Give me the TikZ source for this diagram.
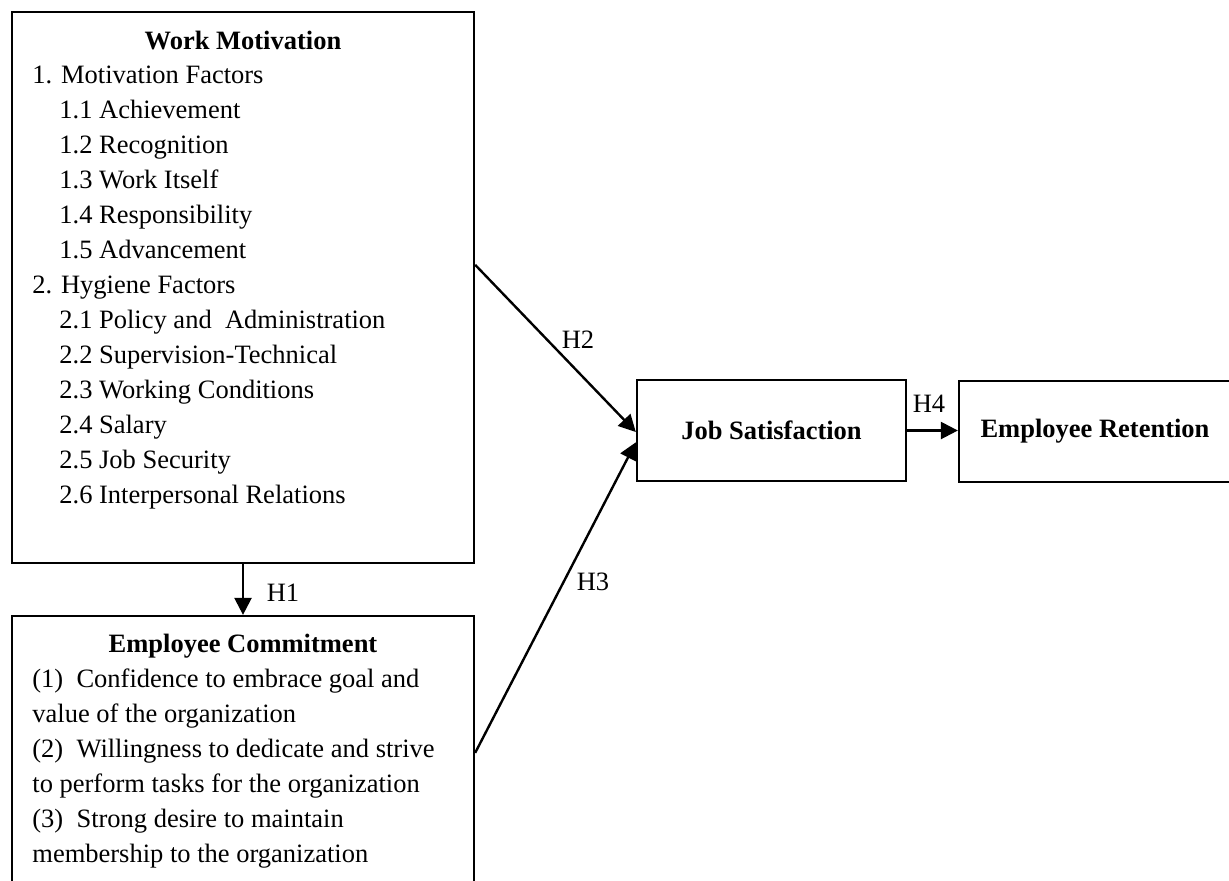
\documentclass[tikz,border=0pt]{standalone}
\usepackage{fontspec}
\setmainfont{Liberation Serif}
\usetikzlibrary{arrows.meta,calc}
\newcommand\diafont{\fontsize{13.25}{17.5}\selectfont}
\tikzset{
  box/.style={draw, line width=1.15pt, rectangle, inner sep=0pt},
  conn/.style={line width=1.2pt, -{Triangle[length=8.5pt,width=8.5pt]}},
  lbl/.style={anchor=base, inner sep=0pt, font=\diafont},
  title/.style={anchor=base, inner sep=0pt, font=\diafont\bfseries},
  items/.style={anchor=base west, inner sep=0pt, font=\diafont},
}
\begin{document}
\begin{tikzpicture}[x=0.5pt,y=-0.5pt]
\useasboundingbox (0,0) rectangle (1229,880);
\clip (0,0) rectangle (1229,880);

% boxes
\node[box, minimum width=231pt, minimum height=275.5pt] (wm) at (243,287.5) {};
\node[box, minimum width=231pt, minimum height=142pt] (ec) at (243,758) {};
\node[box, minimum width=134.5pt, minimum height=50.5pt, font=\diafont\bfseries] (js) at (771.5,430.5) {Job Satisfaction};
\node[box, minimum width=136pt, minimum height=50.5pt, font=\diafont\bfseries] (er) at (1095,431.5) {Employee Retention};

% Work Motivation text
\node[title] (wmtitle) at (243,49) {Work Motivation};
\node[items] (wmitems) at (32,83) {\diafont\begin{tabular}[t]{@{}l@{}}
1. Motivation Factors\\
\hspace*{13.5pt}1.1 Achievement\\
\hspace*{13.5pt}1.2 Recognition\\
\hspace*{13.5pt}1.3 Work Itself\\
\hspace*{13.5pt}1.4 Responsibility\\
\hspace*{13.5pt}1.5 Advancement\\
2. Hygiene Factors\\
\hspace*{13.5pt}2.1 Policy and\ \ Administration\\
\hspace*{13.5pt}2.2 Supervision-Technical\\
\hspace*{13.5pt}2.3 Working Conditions\\
\hspace*{13.5pt}2.4 Salary\\
\hspace*{13.5pt}2.5 Job Security\\
\hspace*{13.5pt}2.6 Interpersonal Relations
\end{tabular}};

% Employee Commitment text
\node[title] (ectitle) at (243,652) {Employee Commitment};
\node[items] (ecitems) at (32,687) {\diafont\begin{tabular}[t]{@{}l@{}}
(1)\ \ Confidence to embrace goal and\\
value of the organization\\
(2)\ \ Willingness to dedicate and strive\\
to perform tasks for the organization\\
(3)\ \ Strong desire to maintain\\
membership to the organization
\end{tabular}};

% connectors
\draw[conn] (wm.south) -- (ec.north);
\draw[conn] ($(wm.north east)!0.459!(wm.south east)$) -- ($(js.north west)!0.515!(js.south west)$);
\draw[conn] ($(ec.north east)!0.482!(ec.south east)$) -- ($(js.north west)!0.614!(js.south west)$);
\draw[conn] (js.east) -- (js.east -| er.west);

% labels
\node[lbl] (h1) at (283,601) {H1};
\node[lbl] (h2) at (578,348) {H2};
\node[lbl] (h3) at (593,590) {H3};
\node[lbl] (h4) at (929,412) {H4};
\end{tikzpicture}
\end{document}
